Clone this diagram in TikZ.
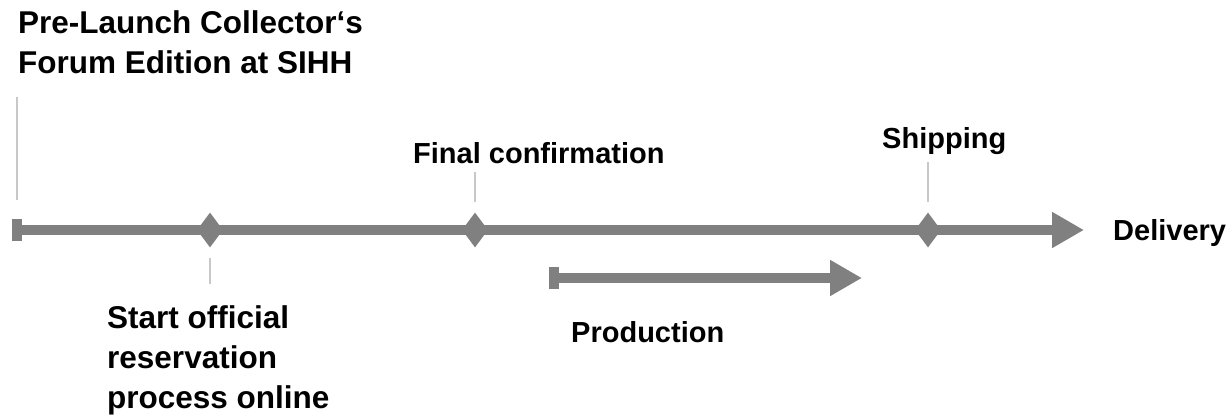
\documentclass[tikz,border=0pt]{standalone}
\usepackage{fontspec}
\setmainfont{Liberation Sans}
\usetikzlibrary{arrows.meta,shapes.geometric}
\definecolor{bargray}{RGB}{128,128,128}
\definecolor{tickgray}{RGB}{200,200,200}
\begin{document}
\begin{tikzpicture}[x=1pt, y=-1pt,
  bar/.style={draw=bargray, line width=10.5pt,
    {Rectangle[length=10pt,width=22pt]}-{Triangle[length=32pt,width=34pt]}},
  milestone/.style={diamond, fill=bargray, inner sep=0pt, minimum width=26pt, minimum height=35pt},
  tick/.style={draw=tickgray, line width=1.8pt},
  lbl/.style={font=\bfseries\fontsize{29}{40}\selectfont, inner sep=0pt, align=left},
  biglbl/.style={lbl, font=\bfseries\fontsize{31.5}{40}\selectfont}]
\useasboundingbox (0,0) rectangle (1229,420);
\coordinate (tl0) at (12,230);
\coordinate (tl1) at (1084,230);
\draw[bar] (tl0) -- (tl1);
\node[milestone] (ms1) at (210,230){};
\node[milestone] (ms2) at (475,230){};
\node[milestone] (ms3) at (928,230){};
\coordinate (pr0) at (549,278);
\coordinate (pr1) at (862,278);
\draw[bar] (pr0) -- (pr1);
\coordinate (tk0a) at (17,97);
\coordinate (tk0b) at (17,200);
\draw[tick] (tk0a) -- (tk0b);
\coordinate (tk1) at (210,284);
\draw[tick] ([yshift=-10pt]ms1.south) -- (tk1);
\coordinate (tk2) at (475,172);
\draw[tick] (tk2) -- ([yshift=10pt]ms2.north);
\coordinate (tk3) at (928,162);
\draw[tick] (tk3) -- ([yshift=10pt]ms3.north);
\node[biglbl, anchor=base west] (lpre) at (18,74){Pre-Launch Collector‘s\\Forum Edition at SIHH};
\node[biglbl, anchor=base west] (lstart) at (107,408){Start official\\reservation\\process online};
\node[lbl, anchor=base west] (lconf) at (413,163){Final confirmation};
\node[lbl, anchor=base west] (lship) at (882,148){Shipping};
\node[lbl, anchor=base west] (ldel) at (1113,240){Delivery};
\node[lbl, anchor=base west] (lprod) at (571,342){Production};
\end{tikzpicture}
\end{document}
